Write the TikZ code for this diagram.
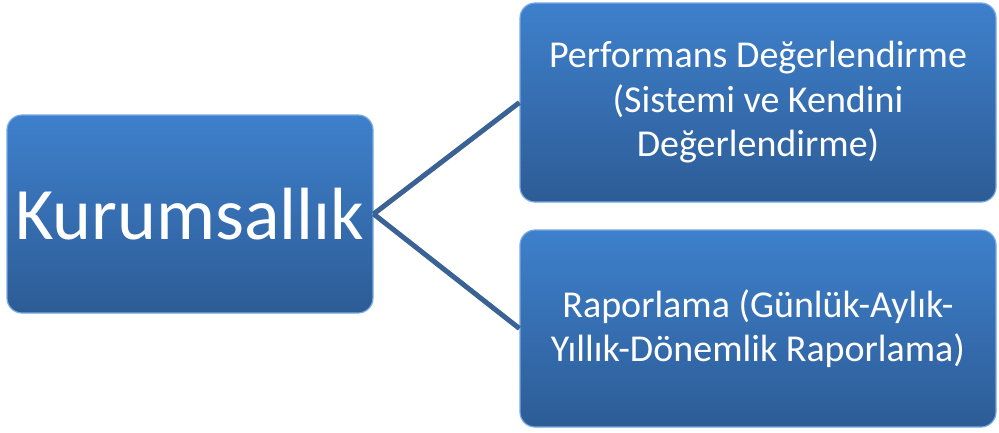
\documentclass[tikz,border=0pt]{standalone}
\usepackage{fontspec}
\setmainfont{Carlito}
\usetikzlibrary{positioning}
\definecolor{boxtop}{RGB}{62,128,204}
\definecolor{boxbot}{RGB}{45,92,150}
\definecolor{boxrim}{RGB}{120,170,225}
\definecolor{linkcol}{RGB}{58,98,148}
\begin{document}
\begin{tikzpicture}[x=1pt,y=-1pt,
    box/.style={rounded corners=15pt, top color=boxtop, bottom color=boxbot,
        draw=boxrim, line width=1.2pt, text=white, align=center, inner sep=0pt},
    link/.style={draw=linkcol, line width=5pt}]
    % canvas
    \useasboundingbox (0,0) rectangle (999,432);

    % main box on the left
    \node[box, minimum width=366pt, minimum height=198pt,
        font=\fontsize{74}{80}\selectfont] (kurum) at (190,214) {Kurumsallık};

    % the two boxes on the right
    \node[box, minimum width=476pt, minimum height=199pt,
        font=\fontsize{38}{44.5}\selectfont] (perf) at (758,102.5)
        {Performans Değerlendirme\\(Sistemi ve Kendini\\Değerlendirme)};
    \node[box, minimum width=476pt, minimum height=197pt,
        font=\fontsize{38}{44.5}\selectfont] (rapor) at (758,328.5)
        {Raporlama (Günlük-Aylık-\\Yıllık-Dönemlik Raporlama)};

    % connectors
    \draw[link] (kurum.east) -- (perf.west);
    \draw[link] (kurum.east) -- (rapor.west);
\end{tikzpicture}
\end{document}
